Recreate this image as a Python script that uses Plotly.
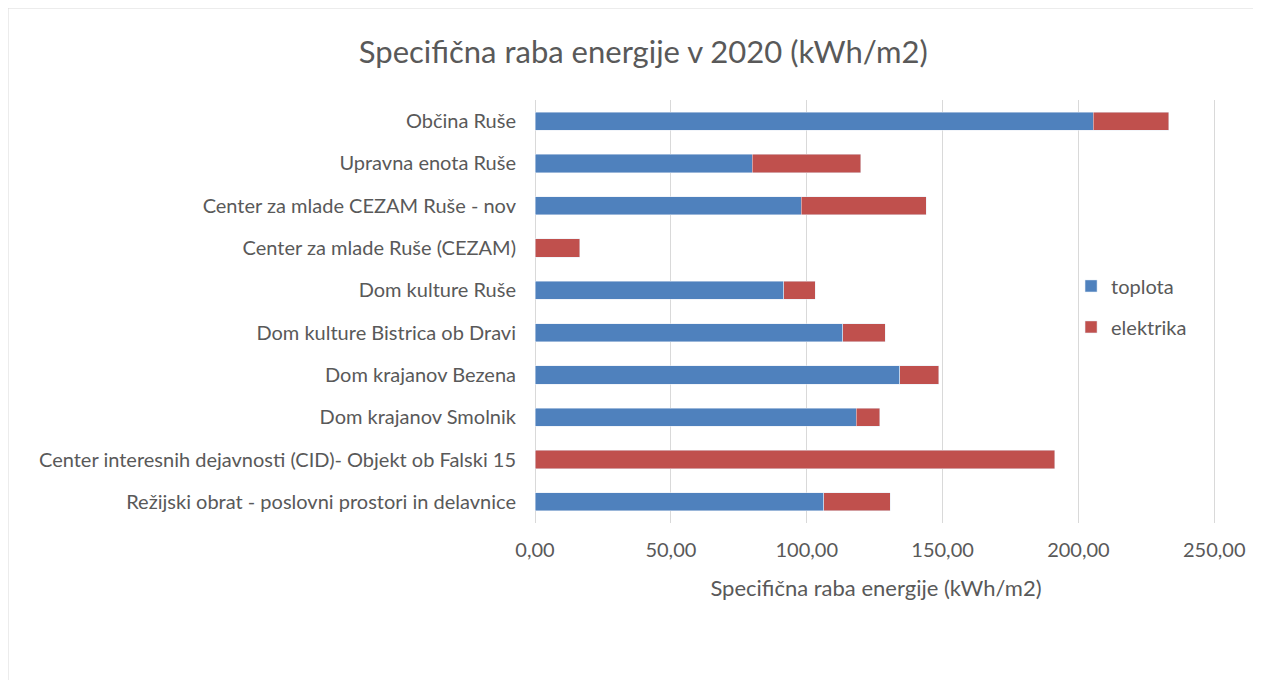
import plotly.graph_objects as go

categories = [
    "Občina Ruše",
    "Upravna enota Ruše",
    "Center za mlade CEZAM Ruše - nov",
    "Center za mlade Ruše (CEZAM)",
    "Dom kulture Ruše",
    "Dom kulture Bistrica ob Dravi",
    "Dom krajanov Bezena",
    "Dom krajanov Smolnik",
    "Center interesnih dejavnosti (CID)- Objekt ob Falski 15",
    "Režijski obrat - poslovni prostori in delavnice",
]
toplota = [205.5, 80.0, 98.0, 0.0, 91.5, 113.2, 134.2, 118.2, 0.0, 106.3]
elektrika = [27.8, 39.9, 46.0, 16.4, 11.6, 15.7, 14.4, 8.6, 191.3, 24.4]
x_ticks = [0, 50, 100, 150, 200, 250]

font_family = "Lato"
grey = "#595959"
grid = "#d9d9d9"

# page body has an 8px margin, so the figure is drawn 8px in from the corner
W, H = 1253, 672

fig = go.Figure()

fig.add_trace(
    go.Bar(
        y=categories,
        x=toplota,
        orientation="h",
        name="toplota",
        legendgroup="t",
        marker=dict(color="#4F81BD"),
    )
)

fig.add_trace(
    go.Bar(
        y=categories,
        x=elektrika,
        orientation="h",
        name="elektrika",
        legendgroup="e",
        marker=dict(color="#C0504D"),
    )
)

fig.update_layout(
    barmode="stack",
    bargap=0.57,
    width=W,
    height=H,
    margin=dict(l=527, r=44, t=92, b=157),
    paper_bgcolor="white",
    plot_bgcolor="white",
    separators=",.",
    font=dict(family=font_family, size=20, color=grey),
    title=dict(
        text="Specifična raba energije v 2020 (kWh/m2)",
        x=0.507,
        xanchor="center",
        y=0.935,
        yanchor="middle",
        font=dict(size=31, color=grey),
    ),
    legend=dict(
        x=0.786,
        y=0.512,
        xanchor="left",
        yanchor="middle",
        bgcolor="rgba(0,0,0,0)",
        font=dict(size=20, color=grey),
        traceorder="grouped",
        tracegroupgap=12,
        itemwidth=30,
    ),
    xaxis=dict(
        range=[0, 251],
        tickvals=x_ticks,
        tickformat=".2f",
        showgrid=True,
        gridcolor=grid,
        gridwidth=1.3,
        zeroline=True,
        zerolinecolor=grid,
        zerolinewidth=1.3,
        showline=False,
        ticklabelstandoff=13,
        title=dict(
            text="Specifična raba energije (kWh/m2)",
            font=dict(size=22, color=grey),
            standoff=20,
        ),
    ),
    yaxis=dict(
        autorange="reversed",
        showgrid=False,
        showline=False,
        ticks="",
        ticklabelstandoff=18,
    ),
    shapes=[
        dict(
            type="rect",
            xref="paper",
            yref="paper",
            x0=-527 / 682,
            x1=(W + 20 - 527) / 682,
            y0=-(157 + 30) / 423,
            y1=1 + 92 / 423,
            line=dict(color=grid, width=1),
            layer="below",
        )
    ],
)

fig.write_html("out.html")
